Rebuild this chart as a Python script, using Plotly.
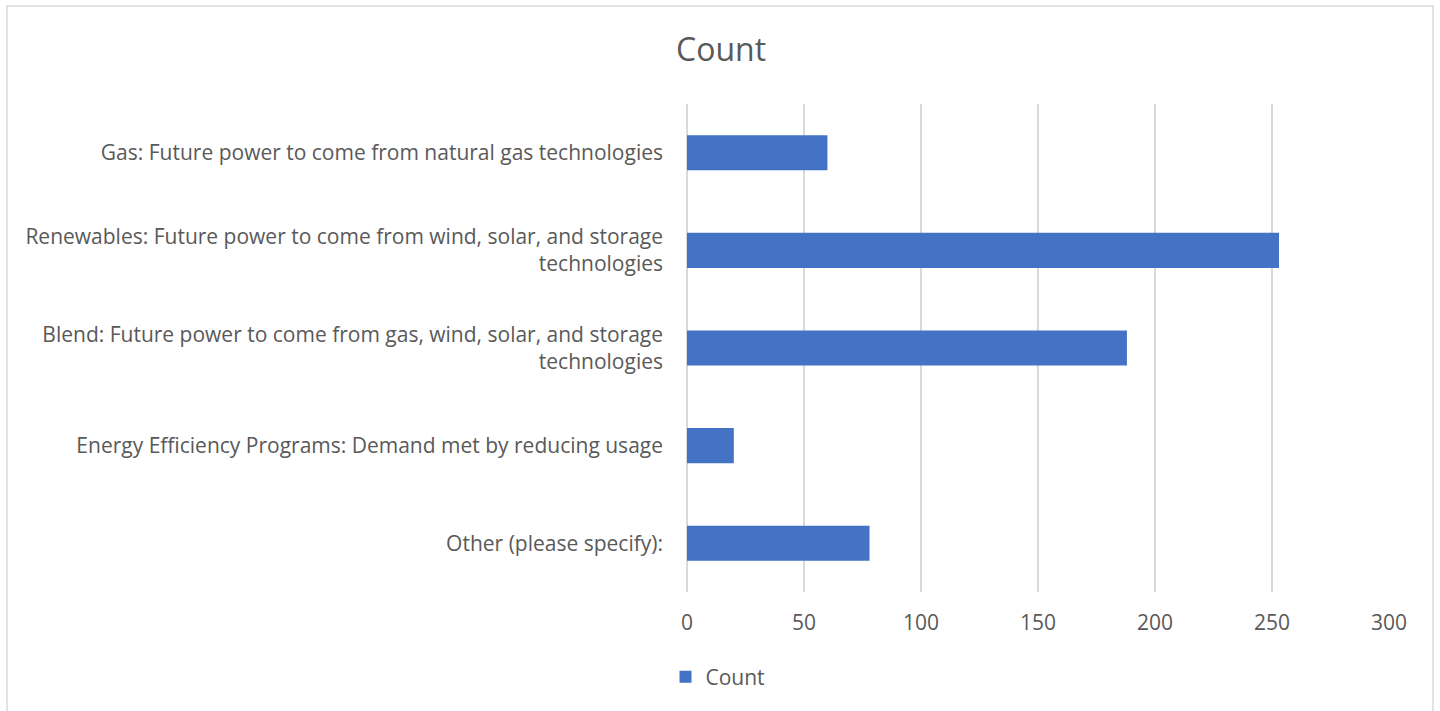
import plotly.graph_objects as go

categories = [
    "Gas: Future power to come from natural gas technologies",
    "Renewables: Future power to come from wind, solar, and storage<br>technologies",
    "Blend: Future power to come from gas, wind, solar, and storage<br>technologies",
    "Energy Efficiency Programs: Demand met by reducing usage",
    "Other (please specify):",
]
counts = [60, 253, 188, 20, 78]
x_ticks = [0, 50, 100, 150, 200, 250, 300]

W, H = 1440, 711
L, R, T, B = 687, 51, 104, 119
FONT = "Open Sans"
GREY = "#595959"
FS = 21

fig = go.Figure()
fig.add_trace(go.Bar(
    y=categories, x=counts, orientation="h", name="Count",
    marker=dict(color="#4472C4", line=dict(width=0)),
))

pw = W - L - R
ph = H - T - B
def px(x):
    return (x - L) / pw
def py(y):
    return 1 - (y - T) / ph

fig.update_layout(
    width=W, height=H,
    margin=dict(l=L, r=R, t=T, b=B),
    paper_bgcolor="white", plot_bgcolor="white",
    font=dict(family=FONT, size=FS, color=GREY),
    title=dict(text="Count", x=721 / W, xanchor="center", y=1 - 50 / H, yanchor="middle",
               xref="container", yref="container",
               font=dict(family=FONT, size=32, color=GREY)),
    bargap=0.64,
    showlegend=True,
    legend=dict(orientation="h", x=718 / W, xanchor="center", y=1 - 677 / H, yanchor="middle",
                xref="container", yref="container",
                font=dict(family=FONT, size=FS, color=GREY), itemwidth=30),
    xaxis=dict(range=[0, 300], tickvals=x_ticks, showgrid=True, gridcolor="#d9d9d9", gridwidth=1.5,
               zeroline=True, zerolinecolor="#d9d9d9", zerolinewidth=1.5,
               showline=False, ticks="", ticklabelstandoff=16,
               tickfont=dict(family=FONT, size=FS, color=GREY)),
    yaxis=dict(categoryorder="array", categoryarray=categories, autorange="reversed",
               showgrid=False, zeroline=False, showline=False, ticks="", ticklabelstandoff=23,
               tickfont=dict(family=FONT, size=FS, color=GREY)),
    shapes=[dict(type="rect", xref="paper", yref="paper",
                 x0=px(7), x1=px(1433), y0=py(6), y1=py(720),
                 line=dict(color="#d9d9d9", width=1.5), fillcolor="rgba(0,0,0,0)", layer="below")],
)

fig.write_html("out.html", config={"displayModeBar": False},
               post_script="document.body.style.margin='0';")
